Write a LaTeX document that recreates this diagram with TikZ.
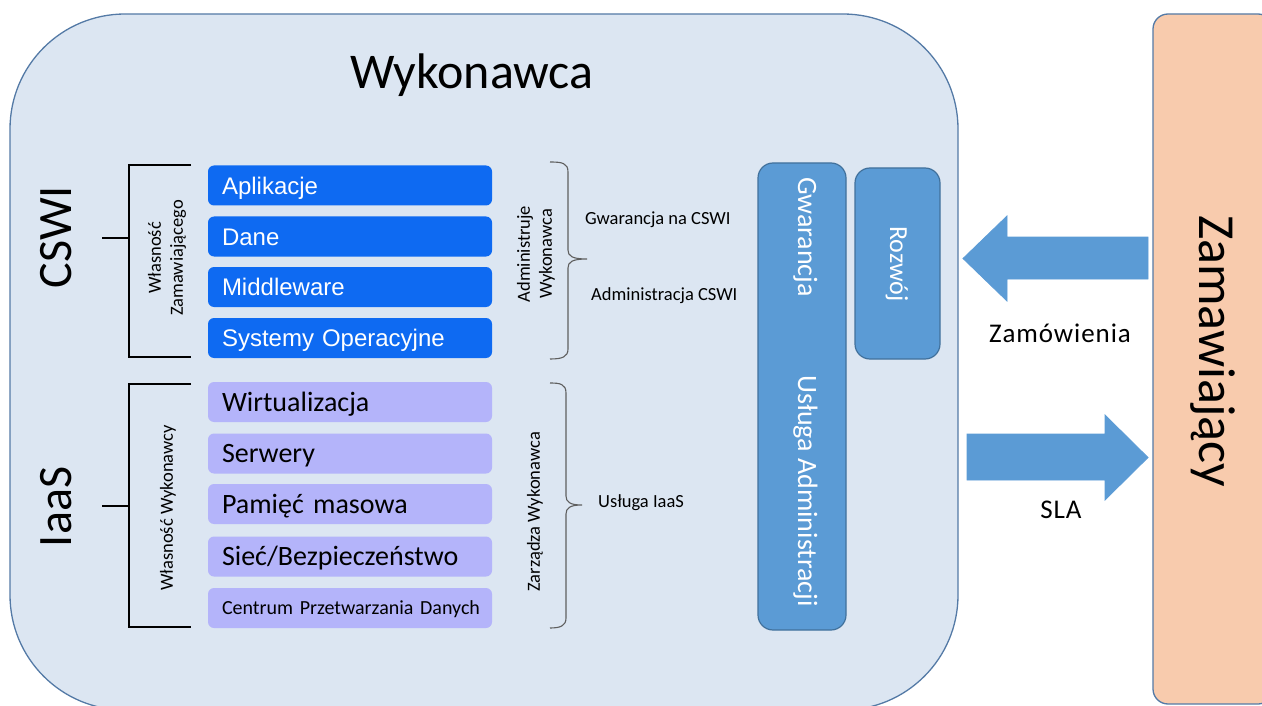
\documentclass[tikz,border=0pt]{standalone}
\usepackage{fontspec}
\setmainfont{Carlito}
\newfontfamily\arialf{Liberation Sans}
\newcommand\fsz[2]{\fontsize{#1}{#2}\selectfont}

\definecolor{wykfill}{RGB}{220,230,242}
\definecolor{wykline}{RGB}{84,122,166}
\definecolor{cswiblue}{RGB}{14,106,242}
\definecolor{lavender}{RGB}{180,180,250}
\definecolor{midblue}{RGB}{91,155,213}
\definecolor{midline}{RGB}{65,113,156}
\definecolor{peach}{RGB}{248,203,173}
\definecolor{bracegray}{RGB}{95,95,95}

\tikzset{
  wbox/.style={draw=wykline, fill=wykfill, line width=1.3pt, rounded corners=115pt,
    inner sep=0pt, minimum width=948pt, minimum height=696pt},
  zbox/.style={draw=wykline, fill=peach, line width=1.3pt, rounded corners=15pt,
    inner sep=0pt, minimum width=120pt, minimum height=690pt},
  cbox/.style={fill=cswiblue, rounded corners=6pt, inner sep=0pt,
    minimum width=284pt, minimum height=40pt, text width=256pt, align=left,
    text=white, font=\arialf\fsz{24}{24}, text height=17.2pt, text depth=0pt},
  lbox/.style={fill=lavender, rounded corners=6pt, inner sep=0pt,
    minimum width=284pt, minimum height=40pt, text width=256pt, align=left,
    text=black, font=\fsz{28}{28}, text height=18pt, text depth=0pt},
  gbox/.style={draw=midline, fill=midblue, line width=1.2pt, rounded corners=15pt,
    inner sep=0pt},
  wlabel/.style={text=white, rotate=-90, anchor=base},
  sidelabel/.style={rotate=90, align=center, font=\fsz{18.5}{22}, inner sep=0pt},
  notelabel/.style={anchor=base west, font=\fsz{18.5}{22}, inner sep=0pt},
  bracket/.style={line width=2pt, black},
  brace/.style={line width=1.1pt, bracegray},
  blockarrow/.style={fill=midblue, draw=midblue, line width=0.8pt, line join=miter},
  arrowlabel/.style={anchor=base, font={\fsz{27}{27}\addfontfeatures{LetterSpace=3.5}}}
}

\begin{document}
\begin{tikzpicture}[x=1pt,y=-1pt]
\useasboundingbox (0,0) rectangle (1262,706);
\clip (0,0) rectangle (1262,706);

% the two parties
\node[wbox] (wyk) at (484,362) {};
\node[zbox] (zam) at (1213,359) {};
\node[anchor=base, font=\fsz{50}{50}] (wykt) at (472,89) {Wykonawca};
\node[rotate=-90, anchor=base, font=\fsz{52}{52}] (zamt) at (1199.5,351) {Zamawiający};

% layer titles
\node[rotate=90, anchor=base, font=\fsz{48}{48}] (cswi) at (71,237) {CSWI};
\node[rotate=90, anchor=base, font=\fsz{48}{48}] (iaas) at (71,507) {IaaS};

% CSWI layers
\node[cbox] (apl) at (350,185.5) {Aplikacje};
\node[cbox] (dane) at (350,236.5) {Dane};
\node[cbox] (mid) at (350,287) {Middleware};
\node[cbox] (sys) at (350,338) {Systemy Operacyjne};

% IaaS layers
\node[lbox] (wirt) at (350,402) {Wirtualizacja};
\node[lbox] (serw) at (350,453.5) {Serwery};
\node[lbox] (pam) at (350,504) {Pamięć masowa};
\node[lbox] (siec) at (350,556.5) {Sieć/Bezpieczeństwo};
\node[lbox, font=\fsz{20}{20}, text height=12.9pt] (cpd) at (350,608)
  {\makebox[256pt][l]{Centrum Przetwarzania Danych}};

% ownership brackets
\coordinate (cswiStem) at (102,238);
\coordinate (iaasStem) at (102,506);
\draw[bracket] (191,165) -- (129,165) -- (129,357) -- (191,357);
\draw[bracket] (cswiStem) -- (129,238);
\draw[bracket] (191,384) -- (129,384) -- (129,627) -- (191,627);
\draw[bracket] (iaasStem) -- (129,506);
\node[sidelabel] (wlz) at (167,258) {Własność\\Zamawiającego};
\node[sidelabel] (wlw) at (168,508) {Własność Wykonawcy};

% responsibility braces
\coordinate (cswiTip) at (587,259);
\coordinate (iaasTip) at (582,505);
\draw[brace] (550,162) .. controls (562,162) and (568,163) .. (568,172) -- (568,250)
  .. controls (568,256) and (572,259) .. (cswiTip)
  .. controls (572,259) and (568,262) .. (568,268) -- (568,349)
  .. controls (568,357) and (562,359) .. (550,359);
\draw[brace] (550,383) .. controls (560,383) and (566,384) .. (566,393) -- (566,496)
  .. controls (566,502) and (570,505) .. (iaasTip)
  .. controls (570,505) and (566,508) .. (566,514) -- (566,618)
  .. controls (566,626) and (560,628) .. (550,628);
\node[sidelabel] (adm) at (536,254) {Administruje\\Wykonawca};
\node[sidelabel] (zarz) at (535,512) {Zarządza Wykonawca};
\node[notelabel] (gwcswi) at (585,225) {Gwarancja na CSWI};
\node[notelabel] (admcswi) at (591,300) {Administracja CSWI};
\node[notelabel] (usliaas) at (598,507) {Usługa IaaS};

% services
\node[gbox, minimum width=88pt, minimum height=467pt] (gw) at (802,396.5) {};
\node[gbox, minimum width=85pt, minimum height=191pt] (roz) at (897.5,263.5) {};
\node[wlabel, font=\fsz{28}{28}] (gwt) at (798,237) {Gwarancja};
\node[wlabel, font=\fsz{28}{28}] (uat) at (798,491) {Usługa Administracji};
\node[wlabel, font=\fsz{26}{26}] (rozt) at (890,264) {Rozwój};

% orders and SLA
\path[blockarrow] (1148,237) -- (1007,237) -- (1007,216) -- (963,258.5)
  -- (1007,301) -- (1007,279) -- (1148,279) -- cycle;
\path[blockarrow] (967,434) -- (1105,434) -- (1105,415) -- (1148,457.5)
  -- (1105,500) -- (1105,480) -- (967,480) -- cycle;
\node[arrowlabel] (zamow) at (1060,342) {Zamówienia};
\node[arrowlabel] (sla) at (1061,518) {SLA};
\end{tikzpicture}
\end{document}
